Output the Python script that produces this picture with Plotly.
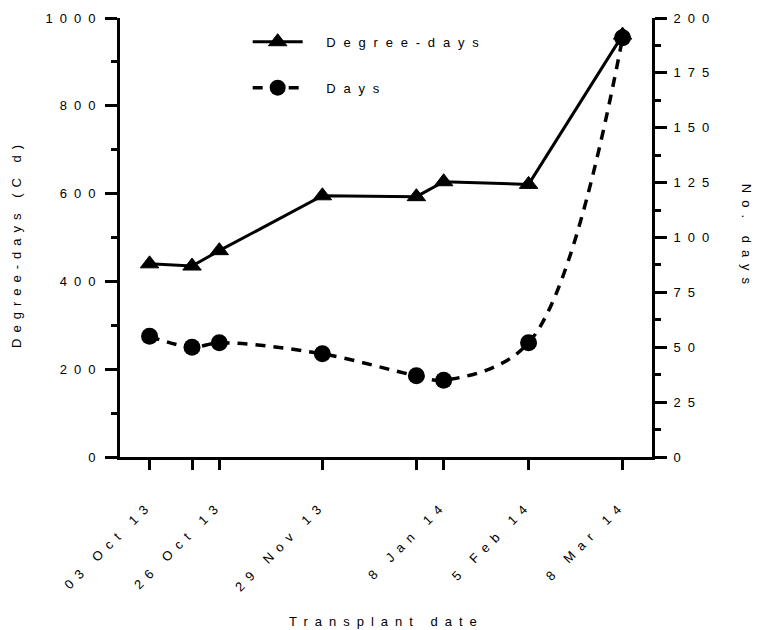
import plotly.graph_objects as go

dates = ["2013-10-03", "2013-10-17", "2013-10-26", "2013-11-29",
         "2013-12-30", "2014-01-08", "2014-02-05", "2014-03-08"]
degree_days = [440, 435, 470, 595, 593, 627, 621, 961]
days = [55, 50, 52, 47, 37, 35, 52, 191]
date_labels = ["03 Oct 13", "", "26 Oct 13", "29 Nov 13", "", "8 Jan 14", "5 Feb 14", "8 Mar 14"]
left_ticks = [0, 200, 400, 600, 800, 1000]
right_ticks = [0, 25, 50, 75, 100, 125, 150, 175, 200]

LS = 7
FONT = "Liberation Sans, Arial, sans-serif"


def sp(t, ls=LS):
    return f'<span style="letter-spacing:{ls}px">{t}</span>' if t else ""


def leg(t):
    return '<span style="letter-spacing:15px">\u00a0</span>' + sp(t, 7.8)


fig = go.Figure()
fig.add_trace(go.Scatter(
    x=dates, y=degree_days, name=leg("Degree-days"), mode="lines+markers",
    line=dict(color="black", width=3),
    marker=dict(symbol="triangle-up", size=16, color="black", line=dict(color="black", width=1)),
    legendgroup="a", yaxis="y"))
fig.add_trace(go.Scatter(
    x=dates, y=days, name=leg("Days"), mode="lines+markers",
    line=dict(color="black", width=3.5, dash="10px,8px", shape="spline", smoothing=1),
    marker=dict(symbol="circle", size=17, color="black"),
    legendgroup="b", yaxis="y2"))

axis_common = dict(showgrid=False, zeroline=False, showline=True, linecolor="black",
                   linewidth=3, ticks="outside", tickcolor="black", tickwidth=3,
                   tickfont=dict(family=FONT, size=13, color="black"))

fig.update_layout(
    width=758, height=630,
    margin=dict(l=120, r=106, t=18, b=173),
    plot_bgcolor="white", paper_bgcolor="white",
    font=dict(family=FONT, size=13, color="black"),
    xaxis=dict(**axis_common, type="date",
               range=["2013-09-23 06:00", "2014-03-17 17:00"],
               tickmode="array", tickvals=dates, ticktext=[sp(t) for t in date_labels],
               tickangle=-45, ticklen=10, ticklabelstandoff=22),
    yaxis=dict(**axis_common, range=[0, 1000], tickmode="array", tickvals=left_ticks,
               ticktext=[sp(str(v)) for v in left_ticks], ticklen=12,
               minor=dict(dtick=100, ticklen=6, tickwidth=3, tickcolor="black", ticks="outside")),
    yaxis2=dict(**axis_common, range=[0, 200], overlaying="y", side="right",
                tickmode="array", tickvals=right_ticks,
                ticktext=[sp(str(v)) for v in right_ticks], ticklen=12, ticklabelstandoff=4,
                minor=dict(dtick=12.5, ticklen=6, tickwidth=3, tickcolor="black", ticks="outside")),
    showlegend=True,
    legend=dict(x=0.24, y=0.98, xanchor="left", yanchor="top", bgcolor="rgba(0,0,0,0)",
                font=dict(family=FONT, size=13, color="black"),
                itemwidth=50, tracegroupgap=26),
    annotations=[
        dict(text=sp("Transplant date"), xref="paper", yref="paper", x=0.5, y=-0.375,
             xanchor="center", yanchor="middle", showarrow=False,
             font=dict(family=FONT, size=13, color="black")),
        dict(text=sp("Degree-days (C d)", 6), xref="paper", yref="paper", x=-0.195, y=0.486,
             xanchor="center", yanchor="middle", showarrow=False, textangle=-90,
             font=dict(family=FONT, size=13, color="black")),
        dict(text=sp("No. days"), xref="paper", yref="paper", x=1.178, y=0.5,
             xanchor="center", yanchor="middle", showarrow=False, textangle=90,
             font=dict(family=FONT, size=13, color="black")),
    ],
)

fig.write_html("out.html")
